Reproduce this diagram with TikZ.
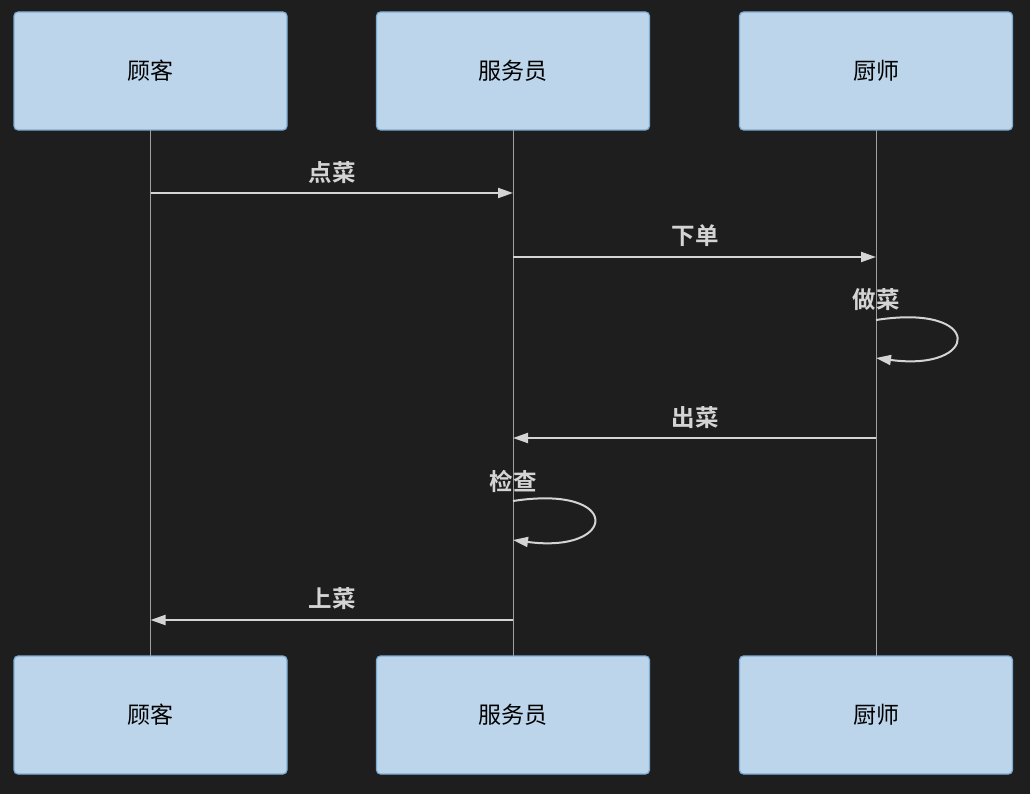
\documentclass[tikz,border=0pt]{standalone}
\usepackage{fontspec}
\setmainfont{Noto Sans CJK SC}
\newfontfamily\cjkb{Noto Sans CJK SC Bold}
\usetikzlibrary{arrows.meta}
\definecolor{bg}{HTML}{1E1E1E}
\definecolor{actfill}{HTML}{BDD5EA}
\definecolor{actdraw}{HTML}{7FACD6}
\definecolor{msgc}{HTML}{D4D4D4}
\definecolor{lifec}{HTML}{A0A0A0}
\tikzset{
  actor/.style={draw=actdraw, fill=actfill, line width=1.2pt, rounded corners=4pt,
    minimum width=273pt, minimum height=118pt, inner sep=0pt,
    font=\fontsize{23}{25}\selectfont, text=black},
  life/.style={draw=lifec, line width=0.9pt},
  msg/.style={draw=msgc, line width=2pt, -{Triangle[length=15pt,width=10pt]}},
  lbl/.style={text=msgc, font=\cjkb\fontsize{23.5}{25}\selectfont, inner sep=0pt}
}
\begin{document}
\begin{tikzpicture}[x=1pt,y=-1pt]
\fill[bg] (0,0) rectangle (1030,794);
\useasboundingbox (0,0) rectangle (1030,794);
% lifelines
\coordinate (l1t) at (150.5,130); \coordinate (l1b) at (150.5,656);
\coordinate (l2t) at (513,130); \coordinate (l2b) at (513,656);
\coordinate (l3t) at (876,130); \coordinate (l3b) at (876,656);
\draw[life] (l1t) -- (l1b);
\draw[life] (l2t) -- (l2b);
\draw[life] (l3t) -- (l3b);
% actors
\node[actor] (c1) at (150.5,71) {顾客};
\node[actor] (w1) at (513,71) {服务员};
\node[actor] (k1) at (876,71) {厨师};
\node[actor] (c2) at (150.5,715) {顾客};
\node[actor] (w2) at (513,715) {服务员};
\node[actor] (k2) at (876,715) {厨师};
% message points
\coordinate (m1a) at (150.5,193); \coordinate (m1b) at (513,193);
\coordinate (m2a) at (513,257); \coordinate (m2b) at (876,257);
\coordinate (m3a) at (876,320); \coordinate (m3b) at (876,358);
\coordinate (m4a) at (876,438); \coordinate (m4b) at (513,438);
\coordinate (m5a) at (513,501); \coordinate (m5b) at (513,540);
\coordinate (m6a) at (513,620); \coordinate (m6b) at (150.5,620);
\draw[msg] (m1a) -- (m1b);
\draw[msg] (m2a) -- (m2b);
\draw[msg] (m3a) .. controls (985,303) and (980,372) .. (m3b);
\draw[msg] (m4a) -- (m4b);
\draw[msg] (m5a) .. controls (623,484) and (618,554) .. (m5b);
\draw[msg] (m6a) -- (m6b);
% labels
\node[lbl] (t1) at (332,173) {点菜};
\node[lbl] (t2) at (695,236) {下单};
\node[lbl] (t3) at (876,300) {做菜};
\node[lbl] (t4) at (695,418) {出菜};
\node[lbl] (t5) at (513,481) {检查};
\node[lbl] (t6) at (332,599) {上菜};
\end{tikzpicture}
\end{document}
